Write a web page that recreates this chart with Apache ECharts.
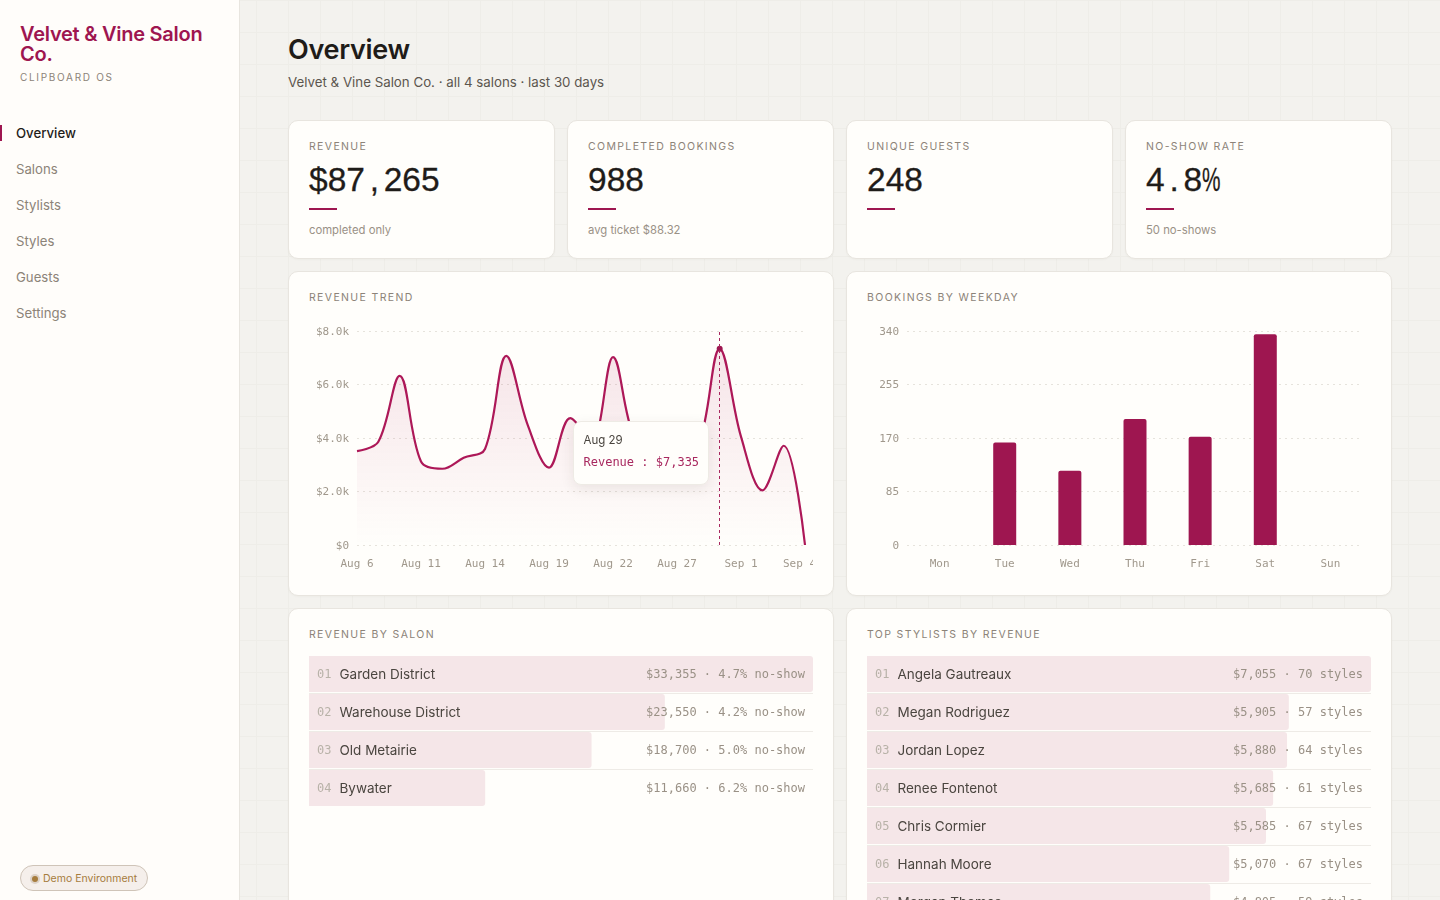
<!DOCTYPE html>
<html><head><meta charset="utf-8">
<script src="https://cdn.jsdelivr.net/npm/echarts@6/dist/echarts.min.js"></script>
<style>
*{box-sizing:border-box}
html,body{margin:0;height:900px;width:1440px;overflow:hidden}
body{font-family:Inter,sans-serif;background-color:#f3f2ee;
background-image:linear-gradient(#eeede8 1px,transparent 1px),linear-gradient(90deg,#eeede8 1px,transparent 1px);background-size:32px 32px;position:relative;color:#1f1c19}
#side{position:absolute;left:0;top:0;width:240px;height:900px;background:#fffdfa;border-right:1px solid #e8e5df}
#logo{position:absolute;left:20px;top:24px;width:200px;font:600 20px/20px Inter,sans-serif;color:#9e1650;letter-spacing:-.25px}
#os{position:absolute;left:20px;top:71px;font-size:10px;line-height:12px;letter-spacing:.17em;color:#8c8378}
.nav{position:absolute;left:16px;font-size:13.2px;line-height:18px;color:#8c8378}
.nav.on{color:#1f1c19;font-weight:500}
#mark{position:absolute;left:0;top:125px;width:2px;height:16px;background:#9e1650}
#badge{position:absolute;left:20px;top:865px;width:128px;height:26px;border:1px solid #cfc4b8;border-radius:13px;background:#f5efeb;font-size:10.5px;line-height:25px;color:#a67c3d;padding-left:22px;white-space:nowrap}
#badge i{position:absolute;left:10.5px;top:9.5px;width:6px;height:6px;border-radius:50%;background:#a67c3d;box-shadow:0 0 0 2px #ddd2c8}
h1{position:absolute;left:288px;top:32px;margin:0;font-size:27px;line-height:36px;font-weight:600;letter-spacing:-.3px}
#sub{position:absolute;left:288px;top:73px;font-size:13.3px;line-height:18px;color:#5c564e}
.card{position:absolute;background:#fffefb;border:1px solid #e8e5df;border-radius:10px;box-shadow:0 1px 2px rgba(60,50,40,.03)}
.lab{position:absolute;left:20px;top:19px;font-size:10.5px;line-height:14px;letter-spacing:.13em;color:#8c8378;white-space:nowrap}
.val{position:absolute;left:20px;top:39px;font:400 33.5px/40px "Liberation Sans",sans-serif;-webkit-text-stroke:.3px #1f1c19;color:#1f1c19;white-space:nowrap}
.val b{font-weight:400;display:inline-block;width:18.8px;text-align:center}
.val b.pc{transform:scaleX(.62);transform-origin:0 50%;width:18px;text-align:left}
.rule{position:absolute;left:20px;top:87px;width:28px;height:2px;background:#9e1650}
.note{position:absolute;left:20px;top:101px;font-size:11.3px;line-height:16px;color:#9a9186}
.chart{position:absolute}
</style></head><body>
<div id="side">
<div id="logo">Velvet &amp; Vine Salon Co.</div><div id="os">CLIPBOARD OS</div><div id="mark"></div>
<div id="navs"></div>
<div id="badge"><i></i>Demo Environment</div></div>
<h1>Overview</h1><div id="sub">Velvet &amp; Vine Salon Co. · all 4 salons · last 30 days</div>
<div id="kpis"></div>
<div class="card" style="left:288px;top:271px;width:546px;height:325px"><div class="lab">REVENUE TREND</div></div>
<div class="card" style="left:846px;top:271px;width:546px;height:325px"><div class="lab">BOOKINGS BY WEEKDAY</div></div>
<div class="card" style="left:288px;top:608px;width:546px;height:400px"><div class="lab">REVENUE BY SALON</div></div>
<div class="card" style="left:846px;top:608px;width:546px;height:400px"><div class="lab">TOP STYLISTS BY REVENUE</div></div>
<div class="chart" id="c1" style="left:309px;top:316px;width:504px;height:260px"></div>
<div class="chart" id="c2" style="left:867px;top:316px;width:504px;height:260px"></div>
<div class="chart" id="c3" style="left:309px;top:655px;width:504px;height:152px"></div>
<div class="chart" id="c4" style="left:867px;top:655px;width:504px;height:266px"></div>
<script>
const navItems=["Overview","Salons","Stylists","Styles","Guests","Settings"];
const kpiLabels=["REVENUE","COMPLETED BOOKINGS","UNIQUE GUESTS","NO-SHOW RATE"];
const kpiValues=["$87,265","988","248","4.8%"];
const kpiNotes=["completed only","avg ticket $88.32","","50 no-shows"];
const trendDates=["Aug 6","Aug 7","Aug 8","Aug 11","Aug 12","Aug 13","Aug 14","Aug 15","Aug 18","Aug 19","Aug 20","Aug 21","Aug 22","Aug 25","Aug 26","Aug 27","Aug 28","Aug 29","Sep 1","Sep 2","Sep 3","Sep 4"];
const trendRevenue=[3510,3860,6320,3120,2850,3260,3590,7070,4490,2890,4740,3900,7020,4000,3500,3300,3700,7335,4050,2040,3710,0];
const weekdays=["Mon","Tue","Wed","Thu","Fri","Sat","Sun"];
const weekdayBookings=[0,163,118,200,172,335,0];
const salonNames=["Garden District","Warehouse District","Old Metairie","Bywater"];
const salonRevenue=[33355,23550,18700,11660];
const salonNoShow=["4.7%","4.2%","5.0%","6.2%"];
const stylistNames=["Angela Gautreaux","Megan Rodriguez","Jordan Lopez","Renee Fontenot","Chris Cormier","Hannah Moore","Morgan Thomas"];
const stylistRevenue=[7055,5905,5880,5685,5585,5070,4805];
const stylistStyles=[70,57,64,61,67,67,59];

const CRIM="#9e1650",MONO="'DejaVu Sans Mono',monospace",SANS='Inter,sans-serif',AX="#a0988c",GRID="#e6e3dc";
const money=v=>"$"+v.toLocaleString("en-US");
navItems.forEach((n,i)=>{const d=document.createElement("div");d.className="nav"+(i?"":" on");d.style.top=(124+36*i)+"px";d.textContent=n;document.getElementById("navs").appendChild(d)});
kpiLabels.forEach((l,i)=>{const c=document.createElement("div");c.className="card";c.style.cssText=`left:${288+279*i}px;top:120px;width:267px;height:139px`;
const v=kpiValues[i].replace(/[,.]/g,m=>`<b>${m}</b>`).replace("%",'<b class="pc">%</b>');
c.innerHTML=`<div class="lab">${l}</div><div class="val">${v}</div><div class="rule"></div><div class="note">${kpiNotes[i]}</div>`;
document.getElementById("kpis").appendChild(c)});

function cartesian(el,cats,left,yMax,yInt,yFmt,extraX,series,tooltip){
 const ch=echarts.init(document.getElementById(el),null,{renderer:"canvas"});
 ch.setOption({animation:false,grid:{left,right:8,top:15,bottom:31,containLabel:false,outerBoundsMode:"none"},
 tooltip,
 xAxis:Object.assign({type:"category",data:cats,axisLine:{show:false},axisTick:{show:false},
   axisLabel:{fontFamily:MONO,fontSize:11,color:AX,margin:14}},extraX),
 yAxis:{type:"value",min:0,max:yMax,interval:yInt,axisLine:{show:false},axisTick:{show:false},
   axisLabel:{margin:8,formatter:v=>`{a|${yFmt(v)}}`,rich:{a:{fontFamily:MONO,fontSize:11,color:AX,padding:[2,0,0,0]}}},
   splitLine:{lineStyle:{color:GRID,type:[2,4],width:1}}},
 series});
 return ch;
}
const lastDate=trendDates[trendDates.length-1];
const c1=cartesian("c1",trendDates,48,8000,2000,v=>v===0?"$0":"$"+(v/1000).toFixed(1)+"k",
 {boundaryGap:false,axisLabel:{margin:14,interval:2,hideOverlap:false,
   formatter:v=>v===lastDate?`{e|${v}}`:`{d|${v}}`,
   rich:{d:{fontFamily:MONO,fontSize:11,color:AX},e:{fontFamily:MONO,fontSize:11,color:AX,padding:[0,11,0,0]}}}},
 [{type:"line",name:"Revenue",data:trendRevenue,smooth:0.36,showSymbol:false,symbol:"circle",symbolSize:6,
   lineStyle:{color:CRIM,width:2.2},itemStyle:{color:CRIM},
   emphasis:{scale:false},
   areaStyle:{color:new echarts.graphic.LinearGradient(0,0,0,1,[{offset:0,color:"rgba(158,22,80,.16)"},{offset:1,color:"rgba(158,22,80,0)"}])}}],
 {trigger:"axis",alwaysShowContent:true,position:()=>[264,105],padding:0,borderWidth:0,backgroundColor:"transparent",
  extraCssText:"box-shadow:none",
  axisPointer:{type:"line",lineStyle:{color:"#a8285f",type:[3,3],width:1}},
  formatter:p=>`<div style="width:136px;height:64px;box-sizing:border-box;padding:10px 9.5px;background:#fffefb;border:1px solid #eeebe5;border-radius:8px;box-shadow:0 4px 14px rgba(60,40,30,.09)"><div style="font:11.5px/16px ${SANS};color:#4a453f">${p[0].name}</div><div style="margin-top:6px;font:12px/16px ${MONO};color:#a8285f;white-space:nowrap">${p[0].seriesName} : ${money(p[0].value)}</div></div>`});
c1.dispatchAction({type:"showTip",seriesIndex:0,dataIndex:17});
cartesian("c2",weekdays,40,340,85,v=>String(v),{},
 [{type:"bar",data:weekdayBookings,barWidth:23,itemStyle:{color:CRIM,borderRadius:[2,2,0,0]}}],{show:false});

function ranked(el,names,vals,rightText){
 const n=names.length;
 const ch=echarts.init(document.getElementById(el));
 const yBase={type:"category",inverse:true,axisLine:{show:false},axisTick:{show:false},z:5};
 ch.setOption({animation:false,grid:{left:0,right:0,top:0,bottom:0,containLabel:false,outerBoundsMode:"none"},
 xAxis:{type:"value",min:0,max:vals[0],show:false},
 yAxis:[Object.assign({},yBase,{data:names,position:"left",
   splitLine:{show:true,lineStyle:{color:"#eeebe6",width:1},interval:i=>i>0&&i<n},
   axisLabel:{inside:true,margin:8,align:"left",
    formatter:(v,i)=>`{r|${String(i+1).padStart(2,"0")}}{n|${v}}`,
    rich:{r:{fontFamily:MONO,fontSize:12,color:"#b8b2a8",width:22.5,padding:[2,0,0,0]},n:{fontFamily:SANS,fontSize:13.5,color:"#4a453f",padding:[2,0,0,0]}}}}),
  Object.assign({},yBase,{data:rightText,position:"right",
   axisLabel:{inside:true,margin:8,align:"right",formatter:v=>`{a|${v}}`,rich:{a:{fontFamily:MONO,fontSize:12,color:"#9a9186",padding:[2,0,0,0]}}}})],
 series:[{type:"bar",yAxisIndex:0,data:vals,barWidth:36,itemStyle:{color:"#f5e6e8",borderRadius:[0,3,3,0]},silent:true},
  {type:"bar",yAxisIndex:1,data:vals,barWidth:36,itemStyle:{color:"rgba(0,0,0,0)"},silent:true}]});
}
ranked("c3",salonNames,salonRevenue,salonRevenue.map((v,i)=>`${money(v)} · ${salonNoShow[i]} no-show`));
ranked("c4",stylistNames,stylistRevenue,stylistRevenue.map((v,i)=>`${money(v)} · ${stylistStyles[i]} styles`));
</script></body></html>
